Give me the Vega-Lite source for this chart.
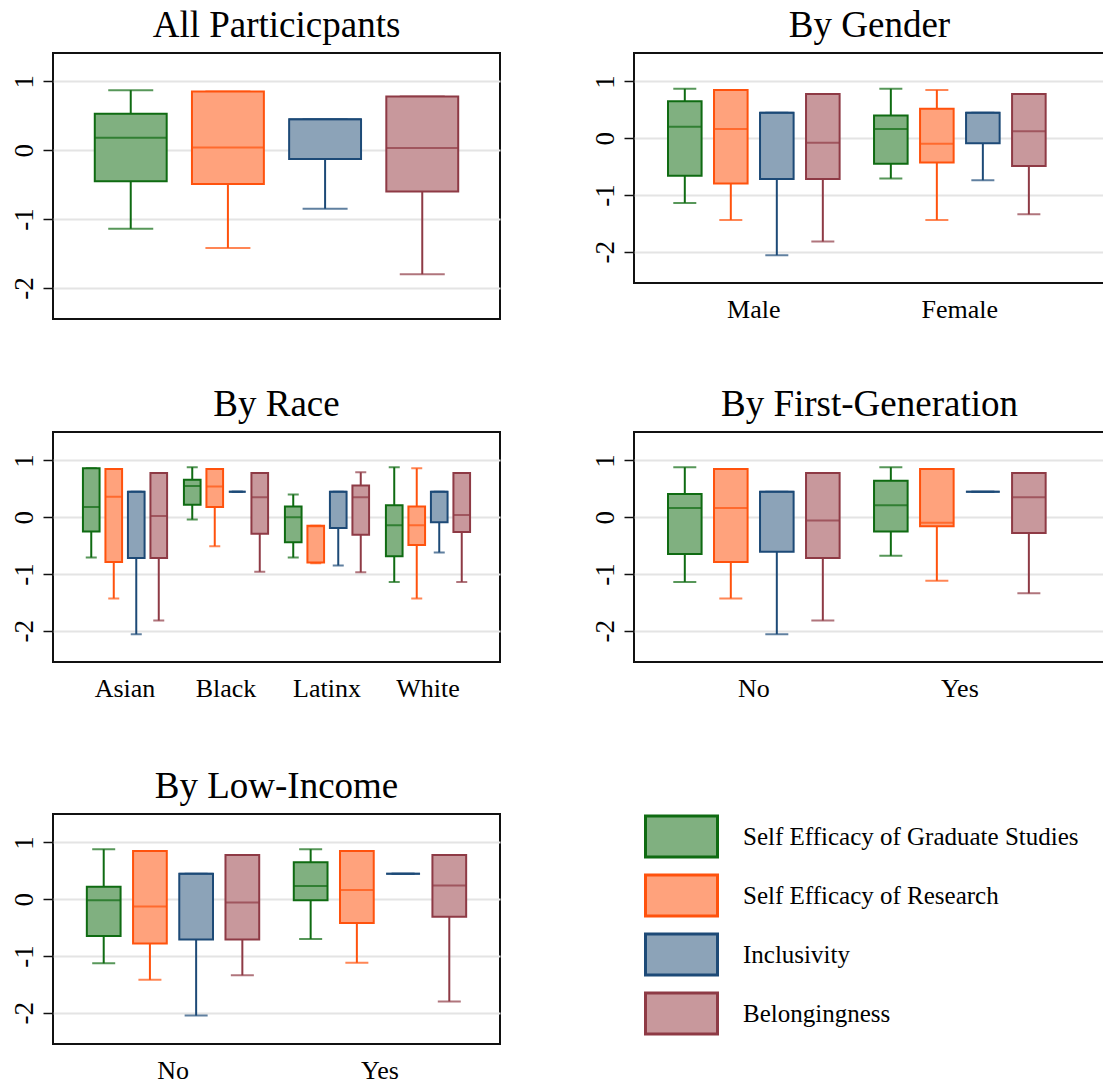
{
  "$schema": "https://vega.github.io/schema/vega-lite/v6.json",
  "padding": {"left": 9, "top": 6, "right": 0, "bottom": 0},
  "background": "white",
  "datasets": {
    "box": [
      {"panel": "All", "group": "All", "measure": "Self Efficacy of Graduate Studies", "lo": -1.14, "q1": -0.45, "med": 0.18, "q3": 0.53, "hi": 0.87},
      {"panel": "All", "group": "All", "measure": "Self Efficacy of Research", "lo": -1.42, "q1": -0.49, "med": 0.04, "q3": 0.85, "hi": 0.85},
      {"panel": "All", "group": "All", "measure": "Inclusivity", "lo": -0.85, "q1": -0.13, "med": 0.45, "q3": 0.45, "hi": 0.45},
      {"panel": "All", "group": "All", "measure": "Belongingness", "lo": -1.8, "q1": -0.6, "med": 0.03, "q3": 0.78, "hi": 0.78},

      {"panel": "Gender", "group": "Male", "measure": "Self Efficacy of Graduate Studies", "lo": -1.14, "q1": -0.66, "med": 0.2, "q3": 0.65, "hi": 0.87},
      {"panel": "Gender", "group": "Male", "measure": "Self Efficacy of Research", "lo": -1.44, "q1": -0.8, "med": 0.16, "q3": 0.85, "hi": 0.85},
      {"panel": "Gender", "group": "Male", "measure": "Inclusivity", "lo": -2.06, "q1": -0.72, "med": 0.45, "q3": 0.45, "hi": 0.45},
      {"panel": "Gender", "group": "Male", "measure": "Belongingness", "lo": -1.82, "q1": -0.72, "med": -0.08, "q3": 0.78, "hi": 0.78},
      {"panel": "Gender", "group": "Female", "measure": "Self Efficacy of Graduate Studies", "lo": -0.71, "q1": -0.45, "med": 0.16, "q3": 0.4, "hi": 0.87},
      {"panel": "Gender", "group": "Female", "measure": "Self Efficacy of Research", "lo": -1.44, "q1": -0.43, "med": -0.1, "q3": 0.52, "hi": 0.85},
      {"panel": "Gender", "group": "Female", "measure": "Inclusivity", "lo": -0.74, "q1": -0.09, "med": 0.45, "q3": 0.45, "hi": 0.45},
      {"panel": "Gender", "group": "Female", "measure": "Belongingness", "lo": -1.34, "q1": -0.49, "med": 0.12, "q3": 0.78, "hi": 0.78},

      {"panel": "Race", "group": "Asian", "measure": "Self Efficacy of Graduate Studies", "lo": -0.71, "q1": -0.25, "med": 0.18, "q3": 0.86, "hi": 0.86},
      {"panel": "Race", "group": "Asian", "measure": "Self Efficacy of Research", "lo": -1.43, "q1": -0.79, "med": 0.36, "q3": 0.85, "hi": 0.85},
      {"panel": "Race", "group": "Asian", "measure": "Inclusivity", "lo": -2.06, "q1": -0.72, "med": 0.45, "q3": 0.45, "hi": 0.45},
      {"panel": "Race", "group": "Asian", "measure": "Belongingness", "lo": -1.82, "q1": -0.72, "med": 0.02, "q3": 0.78, "hi": 0.78},
      {"panel": "Race", "group": "Black", "measure": "Self Efficacy of Graduate Studies", "lo": -0.04, "q1": 0.22, "med": 0.55, "q3": 0.66, "hi": 0.88},
      {"panel": "Race", "group": "Black", "measure": "Self Efficacy of Research", "lo": -0.51, "q1": 0.18, "med": 0.54, "q3": 0.85, "hi": 0.85},
      {"panel": "Race", "group": "Black", "measure": "Inclusivity", "lo": 0.45, "q1": 0.45, "med": 0.45, "q3": 0.45, "hi": 0.45},
      {"panel": "Race", "group": "Black", "measure": "Belongingness", "lo": -0.96, "q1": -0.29, "med": 0.35, "q3": 0.78, "hi": 0.78},
      {"panel": "Race", "group": "Latinx", "measure": "Self Efficacy of Graduate Studies", "lo": -0.71, "q1": -0.44, "med": 0.0, "q3": 0.19, "hi": 0.4},
      {"panel": "Race", "group": "Latinx", "measure": "Self Efficacy of Research", "lo": -0.81, "q1": -0.8, "med": -0.16, "q3": -0.15, "hi": -0.15},
      {"panel": "Race", "group": "Latinx", "measure": "Inclusivity", "lo": -0.85, "q1": -0.19, "med": 0.45, "q3": 0.45, "hi": 0.45},
      {"panel": "Race", "group": "Latinx", "measure": "Belongingness", "lo": -0.97, "q1": -0.31, "med": 0.35, "q3": 0.56, "hi": 0.79},
      {"panel": "Race", "group": "White", "measure": "Self Efficacy of Graduate Studies", "lo": -1.14, "q1": -0.69, "med": -0.14, "q3": 0.21, "hi": 0.88},
      {"panel": "Race", "group": "White", "measure": "Self Efficacy of Research", "lo": -1.43, "q1": -0.49, "med": -0.14, "q3": 0.19, "hi": 0.86},
      {"panel": "Race", "group": "White", "measure": "Inclusivity", "lo": -0.62, "q1": -0.09, "med": 0.45, "q3": 0.45, "hi": 0.45},
      {"panel": "Race", "group": "White", "measure": "Belongingness", "lo": -1.14, "q1": -0.26, "med": 0.04, "q3": 0.78, "hi": 0.78},

      {"panel": "FirstGen", "group": "No", "measure": "Self Efficacy of Graduate Studies", "lo": -1.14, "q1": -0.65, "med": 0.16, "q3": 0.41, "hi": 0.88},
      {"panel": "FirstGen", "group": "No", "measure": "Self Efficacy of Research", "lo": -1.43, "q1": -0.79, "med": 0.16, "q3": 0.85, "hi": 0.85},
      {"panel": "FirstGen", "group": "No", "measure": "Inclusivity", "lo": -2.06, "q1": -0.61, "med": 0.45, "q3": 0.45, "hi": 0.45},
      {"panel": "FirstGen", "group": "No", "measure": "Belongingness", "lo": -1.82, "q1": -0.72, "med": -0.06, "q3": 0.78, "hi": 0.78},
      {"panel": "FirstGen", "group": "Yes", "measure": "Self Efficacy of Graduate Studies", "lo": -0.68, "q1": -0.25, "med": 0.21, "q3": 0.64, "hi": 0.88},
      {"panel": "FirstGen", "group": "Yes", "measure": "Self Efficacy of Research", "lo": -1.12, "q1": -0.16, "med": -0.1, "q3": 0.85, "hi": 0.85},
      {"panel": "FirstGen", "group": "Yes", "measure": "Inclusivity", "lo": 0.45, "q1": 0.45, "med": 0.45, "q3": 0.45, "hi": 0.45},
      {"panel": "FirstGen", "group": "Yes", "measure": "Belongingness", "lo": -1.34, "q1": -0.28, "med": 0.35, "q3": 0.78, "hi": 0.78},

      {"panel": "LowIncome", "group": "No", "measure": "Self Efficacy of Graduate Studies", "lo": -1.13, "q1": -0.65, "med": -0.02, "q3": 0.22, "hi": 0.88},
      {"panel": "LowIncome", "group": "No", "measure": "Self Efficacy of Research", "lo": -1.42, "q1": -0.78, "med": -0.13, "q3": 0.85, "hi": 0.85},
      {"panel": "LowIncome", "group": "No", "measure": "Inclusivity", "lo": -2.05, "q1": -0.71, "med": 0.45, "q3": 0.45, "hi": 0.45},
      {"panel": "LowIncome", "group": "No", "measure": "Belongingness", "lo": -1.34, "q1": -0.71, "med": -0.06, "q3": 0.78, "hi": 0.78},
      {"panel": "LowIncome", "group": "Yes", "measure": "Self Efficacy of Graduate Studies", "lo": -0.7, "q1": -0.02, "med": 0.23, "q3": 0.65, "hi": 0.88},
      {"panel": "LowIncome", "group": "Yes", "measure": "Self Efficacy of Research", "lo": -1.12, "q1": -0.42, "med": 0.16, "q3": 0.85, "hi": 0.85},
      {"panel": "LowIncome", "group": "Yes", "measure": "Inclusivity", "lo": 0.45, "q1": 0.45, "med": 0.45, "q3": 0.45, "hi": 0.45},
      {"panel": "LowIncome", "group": "Yes", "measure": "Belongingness", "lo": -1.8, "q1": -0.31, "med": 0.24, "q3": 0.78, "hi": 0.78}
    ]
  },
  "data": {"name": "box"},
  "spacing": 65,
  "vconcat": [
    {
      "spacing": 62,
      "resolve": {"scale": {"xOffset": "independent", "x": "independent", "y": "independent"}},
      "vconcat": [
        {
          "spacing": 89,
          "resolve": {"scale": {"xOffset": "independent", "x": "independent", "y": "independent"}},
          "hconcat": [
            {
              "title": "All Particicpants",
              "width": 447, "height": 266,
              "transform": [{"filter": "datum.panel === 'All'"}],
              "encoding": {
                "x": {"field": "group", "type": "nominal", "scale": {"paddingInner": 0, "paddingOuter": 0}, "axis": null},
                "xOffset": {"field": "measure", "type": "nominal", "sort": ["Self Efficacy of Graduate Studies", "Self Efficacy of Research", "Inclusivity", "Belongingness"], "scale": {"paddingInner": 0.26, "paddingOuter": 0.43}},
                "stroke": {"field": "measure", "type": "nominal", "title": null, "scale": {"domain": ["Self Efficacy of Graduate Studies", "Self Efficacy of Research", "Inclusivity", "Belongingness"], "range": ["#0f6b12", "#ff520d", "#1d4a77", "#8e3a45"]}}
              },
              "layer": [
                {"mark": {"type": "rule", "strokeWidth": 2},
                 "encoding": {"y": {"field": "lo", "type": "quantitative", "title": null, "scale": {"domain": [-2.45, 1.41], "nice": false, "zero": false}, "axis": {"title": null, "values": [-2, -1, 0, 1], "labelExpr": "'' + datum.value"}}, "y2": {"field": "hi"}}},
                {"mark": {"type": "tick", "filled": false, "thickness": 0, "strokeWidth": 2, "size": 45},
                 "encoding": {"y": {"field": "lo", "type": "quantitative", "title": null}}},
                {"mark": {"type": "tick", "filled": false, "thickness": 0, "strokeWidth": 2, "size": 45},
                 "encoding": {"y": {"field": "hi", "type": "quantitative", "title": null}}},
                {"mark": {"type": "bar", "strokeWidth": 2},
                 "encoding": {"y": {"field": "q3", "type": "quantitative", "title": null}, "y2": {"field": "q1"},
                              "fill": {"field": "measure", "type": "nominal", "title": null, "scale": {"domain": ["Self Efficacy of Graduate Studies", "Self Efficacy of Research", "Inclusivity", "Belongingness"], "range": ["#80b080", "#ffa27c", "#8ca3b8", "#c8989c"]}}}},
                {"mark": {"type": "tick", "filled": false, "thickness": 0, "strokeWidth": 2, "size": 72},
                 "encoding": {"y": {"field": "med", "type": "quantitative", "title": null}}}
              ]
            },
            {
              "title": "By Gender",
              "width": 471, "height": 230,
              "transform": [{"filter": "datum.panel === 'Gender'"}],
              "encoding": {
                "x": {"field": "group", "type": "nominal", "sort": ["Male", "Female"], "scale": {"paddingInner": 0, "paddingOuter": 0.143, "align": 0.285}, "axis": {"title": null}},
                "xOffset": {"field": "measure", "type": "nominal", "sort": ["Self Efficacy of Graduate Studies", "Self Efficacy of Research", "Inclusivity", "Belongingness"], "scale": {"paddingInner": 0.27, "paddingOuter": 0.374}},
                "stroke": {"field": "measure", "type": "nominal", "title": null, "scale": {"domain": ["Self Efficacy of Graduate Studies", "Self Efficacy of Research", "Inclusivity", "Belongingness"], "range": ["#0f6b12", "#ff520d", "#1d4a77", "#8e3a45"]}}
              },
              "layer": [
                {"mark": {"type": "rule", "strokeWidth": 2},
                 "encoding": {"y": {"field": "lo", "type": "quantitative", "title": null, "scale": {"domain": [-2.55, 1.5], "nice": false, "zero": false}, "axis": {"title": null, "values": [-2, -1, 0, 1], "labelExpr": "'' + datum.value"}}, "y2": {"field": "hi"}}},
                {"mark": {"type": "tick", "filled": false, "thickness": 0, "strokeWidth": 2, "size": 23},
                 "encoding": {"y": {"field": "lo", "type": "quantitative", "title": null}}},
                {"mark": {"type": "tick", "filled": false, "thickness": 0, "strokeWidth": 2, "size": 23},
                 "encoding": {"y": {"field": "hi", "type": "quantitative", "title": null}}},
                {"mark": {"type": "bar", "strokeWidth": 2},
                 "encoding": {"y": {"field": "q3", "type": "quantitative", "title": null}, "y2": {"field": "q1"},
                              "fill": {"field": "measure", "type": "nominal", "title": null, "scale": {"domain": ["Self Efficacy of Graduate Studies", "Self Efficacy of Research", "Inclusivity", "Belongingness"], "range": ["#80b080", "#ffa27c", "#8ca3b8", "#c8989c"]}}}},
                {"mark": {"type": "tick", "filled": false, "thickness": 0, "strokeWidth": 2, "size": 34},
                 "encoding": {"y": {"field": "med", "type": "quantitative", "title": null}}}
              ]
            }
          ]
        },
        {
          "spacing": 89,
          "resolve": {"scale": {"xOffset": "independent", "x": "independent", "y": "independent"}},
          "hconcat": [
            {
              "title": "By Race",
              "width": 447, "height": 230,
              "transform": [{"filter": "datum.panel === 'Race'"}],
              "encoding": {
                "x": {"field": "group", "type": "nominal", "sort": ["Asian", "Black", "Latinx", "White"], "scale": {"paddingInner": 0, "paddingOuter": 0.213}, "axis": {"title": null}},
                "xOffset": {"field": "measure", "type": "nominal", "sort": ["Self Efficacy of Graduate Studies", "Self Efficacy of Research", "Inclusivity", "Belongingness"], "scale": {"paddingInner": 0.26, "paddingOuter": 0.374}},
                "stroke": {"field": "measure", "type": "nominal", "title": null, "scale": {"domain": ["Self Efficacy of Graduate Studies", "Self Efficacy of Research", "Inclusivity", "Belongingness"], "range": ["#0f6b12", "#ff520d", "#1d4a77", "#8e3a45"]}}
              },
              "layer": [
                {"mark": {"type": "rule", "strokeWidth": 2},
                 "encoding": {"y": {"field": "lo", "type": "quantitative", "title": null, "scale": {"domain": [-2.55, 1.5], "nice": false, "zero": false}, "axis": {"title": null, "values": [-2, -1, 0, 1], "labelExpr": "'' + datum.value"}}, "y2": {"field": "hi"}}},
                {"mark": {"type": "tick", "filled": false, "thickness": 0, "strokeWidth": 2, "size": 11},
                 "encoding": {"y": {"field": "lo", "type": "quantitative", "title": null}}},
                {"mark": {"type": "tick", "filled": false, "thickness": 0, "strokeWidth": 2, "size": 11},
                 "encoding": {"y": {"field": "hi", "type": "quantitative", "title": null}}},
                {"mark": {"type": "bar", "strokeWidth": 2},
                 "encoding": {"y": {"field": "q3", "type": "quantitative", "title": null}, "y2": {"field": "q1"},
                              "fill": {"field": "measure", "type": "nominal", "title": null, "scale": {"domain": ["Self Efficacy of Graduate Studies", "Self Efficacy of Research", "Inclusivity", "Belongingness"], "range": ["#80b080", "#ffa27c", "#8ca3b8", "#c8989c"]}}}},
                {"mark": {"type": "tick", "filled": false, "thickness": 0, "strokeWidth": 2, "size": 17},
                 "encoding": {"y": {"field": "med", "type": "quantitative", "title": null}}}
              ]
            },
            {
              "title": "By First-Generation",
              "width": 471, "height": 230,
              "transform": [{"filter": "datum.panel === 'FirstGen'"}],
              "encoding": {
                "x": {"field": "group", "type": "nominal", "sort": ["No", "Yes"], "scale": {"paddingInner": 0, "paddingOuter": 0.143, "align": 0.285}, "axis": {"title": null}},
                "xOffset": {"field": "measure", "type": "nominal", "sort": ["Self Efficacy of Graduate Studies", "Self Efficacy of Research", "Inclusivity", "Belongingness"], "scale": {"paddingInner": 0.27, "paddingOuter": 0.374}},
                "stroke": {"field": "measure", "type": "nominal", "title": null, "scale": {"domain": ["Self Efficacy of Graduate Studies", "Self Efficacy of Research", "Inclusivity", "Belongingness"], "range": ["#0f6b12", "#ff520d", "#1d4a77", "#8e3a45"]}}
              },
              "layer": [
                {"mark": {"type": "rule", "strokeWidth": 2},
                 "encoding": {"y": {"field": "lo", "type": "quantitative", "title": null, "scale": {"domain": [-2.55, 1.5], "nice": false, "zero": false}, "axis": {"title": null, "values": [-2, -1, 0, 1], "labelExpr": "'' + datum.value"}}, "y2": {"field": "hi"}}},
                {"mark": {"type": "tick", "filled": false, "thickness": 0, "strokeWidth": 2, "size": 23},
                 "encoding": {"y": {"field": "lo", "type": "quantitative", "title": null}}},
                {"mark": {"type": "tick", "filled": false, "thickness": 0, "strokeWidth": 2, "size": 23},
                 "encoding": {"y": {"field": "hi", "type": "quantitative", "title": null}}},
                {"mark": {"type": "bar", "strokeWidth": 2},
                 "encoding": {"y": {"field": "q3", "type": "quantitative", "title": null}, "y2": {"field": "q1"},
                              "fill": {"field": "measure", "type": "nominal", "title": null, "scale": {"domain": ["Self Efficacy of Graduate Studies", "Self Efficacy of Research", "Inclusivity", "Belongingness"], "range": ["#80b080", "#ffa27c", "#8ca3b8", "#c8989c"]}}}},
                {"mark": {"type": "tick", "filled": false, "thickness": 0, "strokeWidth": 2, "size": 34},
                 "encoding": {"y": {"field": "med", "type": "quantitative", "title": null}}}
              ]
            }
          ]
        }
      ]
    },
    {
      "spacing": 89,
      "resolve": {"scale": {"xOffset": "independent", "x": "independent", "y": "independent"}},
      "hconcat": [
        {
          "title": "By Low-Income",
          "width": 447, "height": 230,
          "transform": [{"filter": "datum.panel === 'LowIncome'"}],
          "encoding": {
            "x": {"field": "group", "type": "nominal", "sort": ["No", "Yes"], "scale": {"paddingInner": 0, "paddingOuter": 0.08}, "axis": {"title": null}},
            "xOffset": {"field": "measure", "type": "nominal", "sort": ["Self Efficacy of Graduate Studies", "Self Efficacy of Research", "Inclusivity", "Belongingness"], "scale": {"paddingInner": 0.27, "paddingOuter": 0.374}},
            "stroke": {"field": "measure", "type": "nominal", "title": null, "scale": {"domain": ["Self Efficacy of Graduate Studies", "Self Efficacy of Research", "Inclusivity", "Belongingness"], "range": ["#0f6b12", "#ff520d", "#1d4a77", "#8e3a45"]}}
          },
          "layer": [
            {"mark": {"type": "rule", "strokeWidth": 2},
             "encoding": {"y": {"field": "lo", "type": "quantitative", "title": null, "scale": {"domain": [-2.55, 1.5], "nice": false, "zero": false}, "axis": {"title": null, "values": [-2, -1, 0, 1], "labelExpr": "'' + datum.value"}}, "y2": {"field": "hi"}}},
            {"mark": {"type": "tick", "filled": false, "thickness": 0, "strokeWidth": 2, "size": 23},
             "encoding": {"y": {"field": "lo", "type": "quantitative", "title": null}}},
            {"mark": {"type": "tick", "filled": false, "thickness": 0, "strokeWidth": 2, "size": 23},
             "encoding": {"y": {"field": "hi", "type": "quantitative", "title": null}}},
            {"mark": {"type": "bar", "strokeWidth": 2},
             "encoding": {"y": {"field": "q3", "type": "quantitative", "title": null}, "y2": {"field": "q1"},
                          "fill": {"field": "measure", "type": "nominal", "title": null, "scale": {"domain": ["Self Efficacy of Graduate Studies", "Self Efficacy of Research", "Inclusivity", "Belongingness"], "range": ["#80b080", "#ffa27c", "#8ca3b8", "#c8989c"]}}}},
            {"mark": {"type": "tick", "filled": false, "thickness": 0, "strokeWidth": 2, "size": 34},
             "encoding": {"y": {"field": "med", "type": "quantitative", "title": null}}}
          ]
        }
      ]
    }
  ],
  "resolve": {"scale": {"xOffset": "independent", "x": "independent", "y": "independent", "fill": "shared", "stroke": "shared"}},
  "config": {
    "font": "Liberation Serif",
    "view": {"stroke": "#111111", "strokeWidth": 2},
    "axis": {"labelFont": "Liberation Serif", "labelFontSize": 27, "labelColor": "#000000", "domain": false},
    "axisY": {"grid": true, "gridColor": "#e4e4e4", "gridWidth": 2, "tickSize": 10, "tickColor": "#111111", "tickWidth": 1.5, "labelAngle": -90, "labelPadding": 5},
    "axisX": {"ticks": false, "grid": false, "labelPadding": 13, "labelAngle": 0, "labelFontSize": 26},
    "title": {"font": "Liberation Serif", "fontSize": 37, "fontWeight": "normal", "color": "#000000", "offset": 8},
    "legend": {
      "orient": "none", "legendX": 591, "legendY": 754,
      "symbolType": "M-1,-0.57H1V0.57H-1Z", "symbolSize": 5184, "symbolStrokeWidth": 3, "symbolOpacity": 1,
      "labelFont": "Liberation Serif", "labelFontSize": 25, "labelColor": "#000000", "labelLimit": 0, "labelOffset": 24,
      "rowPadding": 0, "clipHeight": 59, "padding": 0
    }
  }
}
